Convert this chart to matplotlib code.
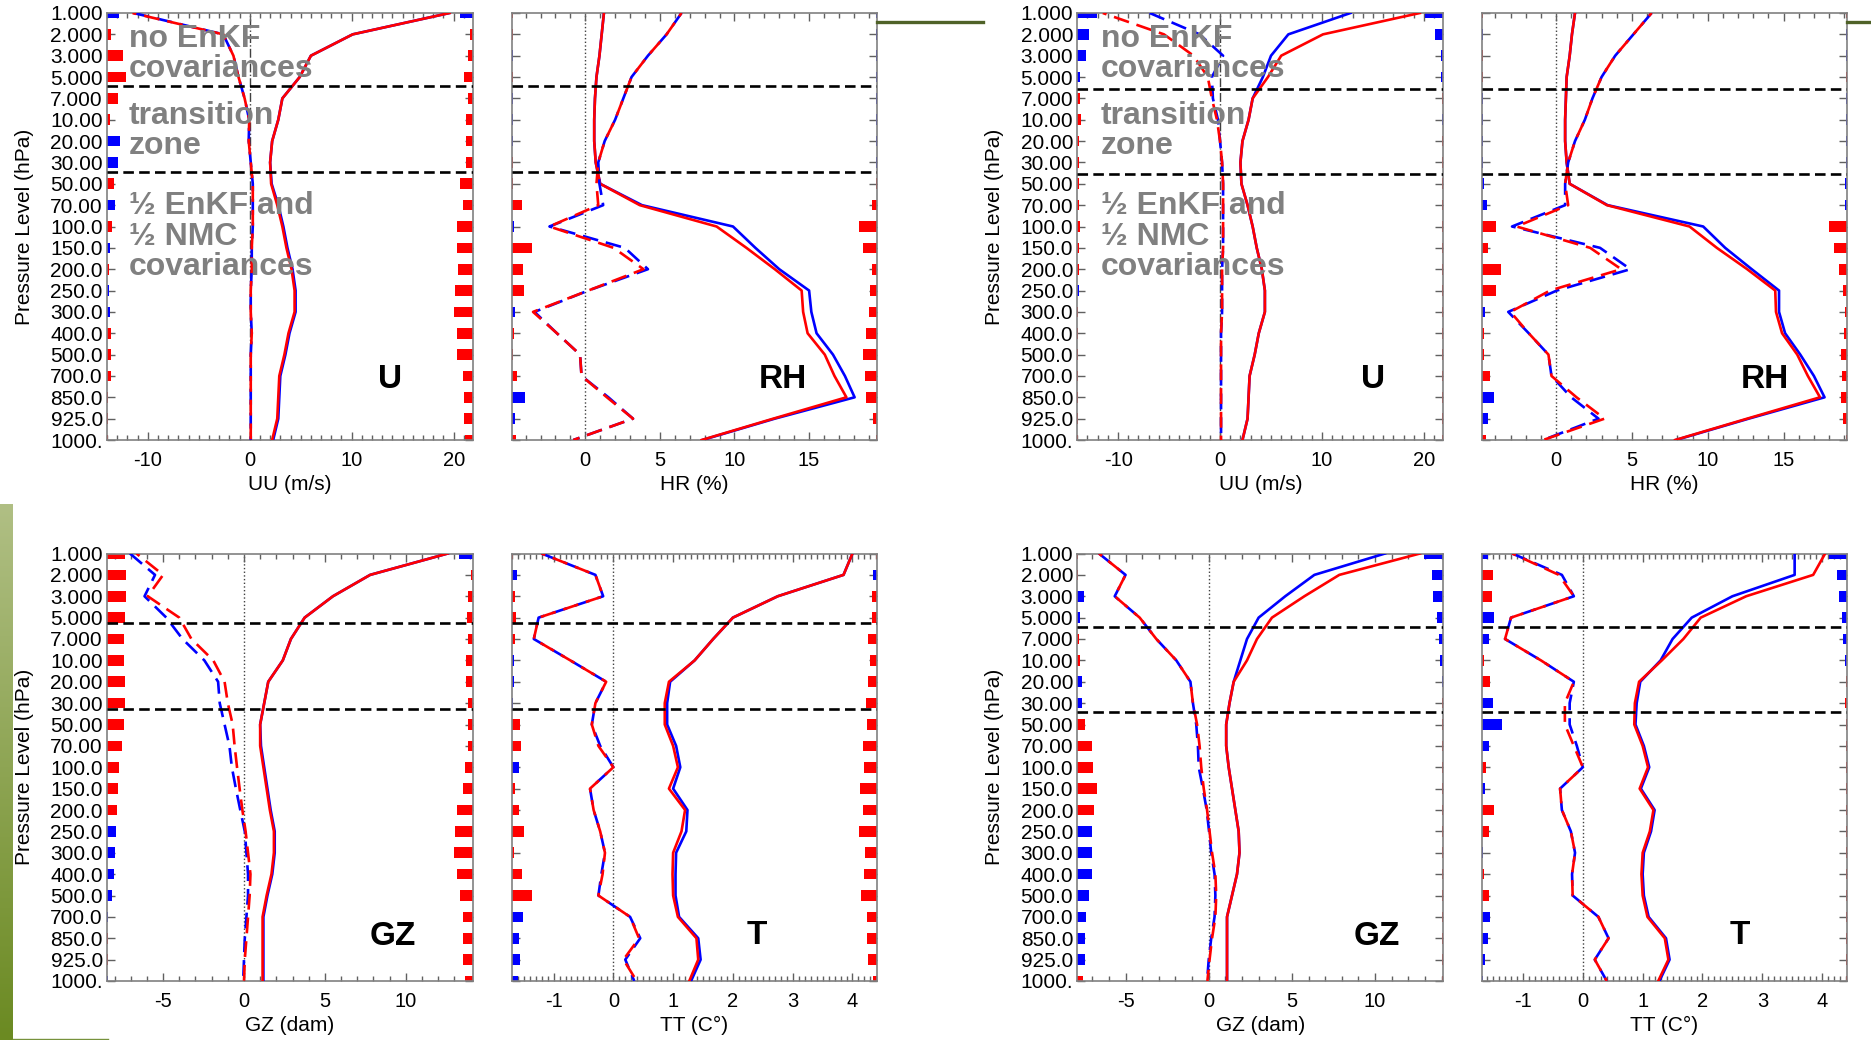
import numpy as np
import matplotlib.pyplot as plt
from matplotlib.lines import Line2D
from matplotlib.colors import LinearSegmentedColormap
from matplotlib.ticker import MultipleLocator, FormatStrFormatter

plt.rcParams['font.family'] = ['Liberation Sans', 'DejaVu Sans']
plt.rcParams['axes.unicode_minus'] = False

levels = ["1.000", "2.000", "3.000", "5.000", "7.000", "10.00", "20.00", "30.00",
          "50.00", "70.00", "100.0", "150.0", "200.0", "250.0", "300.0", "400.0",
          "500.0", "700.0", "850.0", "925.0", "1000."]

# ---- experiment set 1 (left pair of columns) ----
# std dev (solid) and bias (dashed); ctl = blue, exp = red
uu1_std_ctl = [19.6, 10.1, 6.0, 4.9, 3.2, 2.8, 2.2, 2.0, 2.15, 2.8, 3.3, 3.7, 4.2, 4.5, 4.5, 3.9, 3.5, 3.0, 2.9, 2.8, 2.3]
uu1_std_exp = [19.6, 10.1, 6.0, 4.9, 3.2, 2.8, 2.2, 2.0, 2.1, 2.7, 3.2, 3.6, 4.1, 4.4, 4.4, 3.8, 3.4, 2.9, 2.8, 2.7, 2.2]
uu1_bias_ctl = [-11.4, -2.6, -1.6, -1.1, -0.5, -0.05, -0.1, 0.1, 0.3, 0.3, 0.3, 0.2, 0.2, 0.1, 0.1, 0.2, 0.1, 0.1, 0.1, 0.1, 0.1]
uu1_bias_exp = [-11.5, -2.6, -1.6, -1.1, -0.5, -0.05, -0.1, 0.1, 0.3, 0.3, 0.3, 0.2, 0.2, 0.1, 0.1, 0.2, 0.1, 0.1, 0.1, 0.1, 0.1]

hr1_std_ctl = [1.25, 1.1, 0.95, 0.75, 0.65, 0.6, 0.6, 0.7, 1.0, 3.8, 9.9, 11.4, 13.0, 15.0, 15.15, 15.5, 16.6, 17.4, 18.05, 12.7, 7.85]
hr1_std_exp = [1.25, 1.1, 0.95, 0.75, 0.65, 0.6, 0.6, 0.7, 1.0, 3.65, 8.8, 10.8, 12.7, 14.5, 14.6, 14.9, 16.05, 16.7, 17.5, 12.6, 7.8]
hr1_bias_ctl = [6.45, 5.45, 4.2, 3.1, 2.55, 2.0, 1.3, 0.87, 0.95, 1.2, -2.4, 2.65, 4.2, 0.2, -3.4, -1.9, -0.35, -0.25, 1.55, 3.2, -0.8]
hr1_bias_exp = [6.45, 5.45, 4.2, 3.1, 2.55, 2.0, 1.3, 0.87, 0.75, 0.87, -2.4, 1.9, 3.9, 0.2, -3.5, -1.9, -0.35, -0.25, 1.45, 3.2, -0.8]

gz1_std_ctl = [12.6, 7.8, 5.5, 3.75, 2.9, 2.4, 1.5, 1.25, 1.0, 1.05, 1.25, 1.45, 1.65, 1.9, 1.9, 1.75, 1.45, 1.2, 1.2, 1.2, 1.2]
gz1_std_exp = [12.6, 7.8, 5.5, 3.75, 2.9, 2.4, 1.5, 1.25, 1.0, 1.0, 1.2, 1.4, 1.6, 1.85, 1.85, 1.7, 1.4, 1.15, 1.15, 1.15, 1.15]
gz1_bias_ctl = [-7.05, -5.5, -6.15, -4.8, -3.8, -2.45, -1.6, -1.5, -1.2, -0.9, -0.75, -0.5, -0.23, 0.05, 0.15, 0.25, 0.25, 0.15, 0.05, 0.0, -0.05]
gz1_bias_exp = [-6.65, -5.0, -5.95, -4.0, -3.25, -1.9, -1.2, -1.0, -0.7, -0.58, -0.43, -0.27, -0.1, 0.1, 0.25, 0.4, 0.35, 0.25, 0.15, 0.05, 0.0]

tt1_std_ctl = [4.0, 3.85, 2.75, 2.0, 1.67, 1.36, 0.95, 0.9, 0.9, 1.05, 1.12, 1.0, 1.24, 1.22, 1.05, 1.04, 1.04, 1.1, 1.42, 1.46, 1.3]
tt1_std_exp = [4.0, 3.85, 2.75, 2.0, 1.67, 1.36, 0.93, 0.86, 0.86, 1.0, 1.08, 0.93, 1.2, 1.14, 1.0, 0.99, 1.0, 1.08, 1.39, 1.42, 1.27]
tt1_bias_ctl = [-1.2, -0.3, -0.17, -1.25, -1.33, -0.72, -0.12, -0.3, -0.36, -0.22, 0.0, -0.39, -0.33, -0.22, -0.14, -0.2, -0.25, 0.28, 0.45, 0.2, 0.35]
tt1_bias_exp = [-1.2, -0.3, -0.17, -1.25, -1.33, -0.72, -0.12, -0.3, -0.36, -0.25, 0.0, -0.39, -0.33, -0.22, -0.14, -0.18, -0.25, 0.28, 0.43, 0.17, 0.39]

# ---- experiment set 2 (right pair of columns) ----
uu2_std_ctl = [12.8, 6.7, 5.0, 4.2, 3.2, 2.8, 2.2, 2.0, 2.1, 2.7, 3.2, 3.6, 4.1, 4.4, 4.4, 3.8, 3.4, 2.9, 2.8, 2.7, 2.2]
uu2_std_exp = [19.6, 10.1, 6.0, 4.7, 3.2, 2.8, 2.2, 2.0, 2.1, 2.7, 3.2, 3.6, 4.1, 4.4, 4.4, 3.8, 3.4, 2.9, 2.8, 2.7, 2.2]
uu2_bias_ctl = [-6.9, -2.0, 0.3, -0.8, -0.7, -0.2, 0.0, 0.2, 0.3, 0.3, 0.3, 0.3, 0.2, 0.2, 0.2, 0.1, 0.1, 0.1, 0.1, 0.1, 0.1]
uu2_bias_exp = [-11.5, -5.5, -2.6, -1.2, -0.8, -0.3, 0.0, 0.2, 0.3, 0.3, 0.3, 0.3, 0.2, 0.2, 0.2, 0.1, 0.1, 0.1, 0.1, 0.1, 0.1]

hr2_std_ctl = [1.25, 1.05, 0.9, 0.7, 0.65, 0.6, 0.6, 0.7, 0.9, 3.4, 9.7, 11.15, 12.9, 14.7, 14.7, 15.1, 16.1, 17.0, 17.7, 12.7, 7.9]
hr2_std_exp = [1.25, 1.05, 0.9, 0.7, 0.65, 0.6, 0.6, 0.7, 0.9, 3.35, 8.8, 10.6, 12.6, 14.45, 14.5, 14.9, 15.9, 16.6, 17.4, 12.6, 7.85]
hr2_bias_ctl = [6.3, 5.1, 3.9, 3.0, 2.4, 1.9, 1.25, 0.8, 0.6, 0.6, -2.9, 2.9, 4.9, 0.05, -3.15, -1.8, -0.5, -0.3, 1.0, 2.8, -0.85]
hr2_bias_exp = [6.3, 5.1, 3.9, 3.0, 2.4, 1.9, 1.25, 0.8, 0.6, 0.8, -2.6, 2.25, 4.3, -0.4, -3.0, -1.8, -0.5, -0.3, 1.35, 3.2, -0.85]

gz2_std_ctl = [10.6, 6.35, 4.6, 3.0, 2.3, 1.9, 1.5, 1.25, 1.05, 1.05, 1.2, 1.4, 1.6, 1.8, 1.85, 1.7, 1.4, 1.1, 1.1, 1.1, 1.1]
gz2_std_exp = [12.7, 7.85, 5.75, 3.8, 2.9, 2.3, 1.5, 1.25, 1.05, 1.05, 1.2, 1.4, 1.6, 1.8, 1.85, 1.7, 1.4, 1.1, 1.1, 1.1, 1.1]
gz2_bias_ctl = [-6.6, -5.0, -5.65, -4.15, -3.15, -1.95, -1.1, -0.95, -0.75, -0.65, -0.6, -0.35, -0.12, 0.02, 0.15, 0.35, 0.4, 0.35, 0.15, 0.0, -0.1]
gz2_bias_exp = [-6.6, -5.0, -5.65, -4.15, -3.15, -1.95, -1.1, -0.95, -0.7, -0.55, -0.45, -0.3, -0.1, 0.05, 0.2, 0.4, 0.45, 0.4, 0.2, 0.05, -0.08]

tt2_std_ctl = [3.54, 3.54, 2.5, 1.82, 1.5, 1.3, 0.96, 0.9, 0.88, 1.02, 1.11, 0.97, 1.2, 1.14, 1.02, 1.0, 1.02, 1.1, 1.39, 1.45, 1.28]
tt2_std_exp = [4.05, 3.85, 2.73, 1.97, 1.68, 1.32, 0.94, 0.87, 0.86, 1.0, 1.09, 0.95, 1.18, 1.12, 1.0, 0.98, 1.0, 1.08, 1.37, 1.43, 1.26]
tt2_bias_ctl = [-1.18, -0.35, -0.15, -1.2, -1.3, -0.7, -0.15, -0.22, -0.22, -0.1, 0.0, -0.38, -0.35, -0.2, -0.13, -0.18, -0.17, 0.26, 0.43, 0.2, 0.4]
tt2_bias_exp = [-1.18, -0.4, -0.15, -1.2, -1.3, -0.7, -0.15, -0.3, -0.3, -0.15, 0.0, -0.38, -0.35, -0.2, -0.13, -0.18, -0.17, 0.26, 0.43, 0.2, 0.4]

# significance strips (% of panel width); > 0 red, < 0 blue
uu1_sig_l = [-3.3, 1.0, 4.5, 5.3, 3.0, 0.7, -3.5, -3.1, 1.8, -2.1, 1.5, -0.7, 0.5, -0.5, -0.9, 1.2, 1.0, 1.0, 0.4, 0.4, 0.3]
uu1_sig_r = [-3.6, 0.9, 1.4, 2.5, 1.4, 1.8, 2.0, 1.8, 3.6, 2.7, 4.5, 4.5, 4.1, 4.8, 5.3, 4.5, 4.4, 2.7, 2.5, 2.5, 2.1]
hr1_sig_l = [0.4, 0.3, -0.3, 0.3, -0.3, -0.3, -0.3, 0.3, 0.3, 2.7, -0.5, 5.5, 3.2, 3.5, -1.0, 0.5, 0.3, 1.4, -3.6, -1.0, 1.2]
hr1_sig_r = [-0.3, -0.3, -0.3, -0.3, -0.3, -0.3, -0.3, -0.3, 0.3, 1.5, 4.9, 3.8, 1.3, 2.0, 2.2, 2.9, 3.8, 3.4, 2.9, 1.1, 0.4]
gz1_sig_l = [4.8, 5.3, 5.3, 4.9, 4.6, 4.6, 4.8, 4.8, 4.6, 4.1, 3.3, 3.0, 2.7, -2.5, -2.2, -2.0, -1.5, -0.4, 0.4, 0.4, -0.4]
gz1_sig_r = [-3.8, 0.5, 1.4, 1.6, 1.5, 1.8, 2.0, 1.4, 1.4, 1.4, 2.3, 2.7, 4.4, 4.8, 5.3, 4.4, 3.6, 2.7, 2.7, 2.7, 2.3]
tt1_sig_l = [0.4, -1.5, 0.8, 1.2, 0.9, -0.6, -0.6, -0.4, 2.3, 2.5, -2.1, 0.9, 2.1, 3.5, 0.7, 2.9, 5.5, -3.2, -2.1, -2.3, -1.6]
tt1_sig_r = [0.3, -1.1, 1.5, 1.5, 2.5, 2.0, 2.5, 3.1, 2.7, 3.8, 3.6, 4.7, 3.8, 5.0, 3.4, 3.6, 4.3, 2.7, 2.7, 2.5, 1.1]

uu2_sig_l = [-5.3, -3.3, -2.4, -0.7, 0.7, 0.9, 0.4, 0.4, 0.4, 0.5, 0.7, 0.4, 0.4, -0.5, 0.3, 0.3, 0.3, 0.3, 0.3, 0.3, 0.3]
uu2_sig_r = [-5.0, -2.3, -0.5, -0.5, 0.3, -0.3, 0.3, 0.3, 0.3, 0.3, 0.3, 0.3, 0.3, 0.3, 0.3, 0.3, 0.3, 0.3, 0.3, 0.3, 0.3]
hr2_sig_l = [0.3, -0.3, 0.3, 0.3, -0.3, -0.3, -0.3, -0.3, -0.7, -1.5, 3.9, 1.8, 5.3, 3.9, -1.0, 0.5, 0.7, 2.3, -3.4, -1.8, 1.2]
hr2_sig_r = [0.3, -0.3, -0.3, 0.3, -0.3, -0.3, -0.3, -0.3, -0.6, -0.6, 4.9, 3.6, 2.2, 1.3, 0.6, 0.8, 1.8, 1.5, 1.8, 1.3, 0.3]
gz2_sig_l = [0.3, 0.3, -1.8, -0.7, 0.5, 0.7, -1.3, -1.2, 2.2, 3.9, 4.2, 5.3, 4.6, -3.9, -3.9, -3.9, -3.3, -2.5, -2.1, -2.1, 1.6]
gz2_sig_r = [-5.3, -3.2, -2.7, -1.6, -1.2, -0.9, -0.3, 0.4, 0.4, 0.3, 0.3, 0.3, 0.3, 0.3, 0.3, 0.3, 0.3, 0.3, 0.3, 0.3, 0.3]
tt2_sig_l = [-1.8, 3.2, 2.9, -3.5, -2.1, 0.5, 2.3, -3.2, -5.5, -2.1, 1.1, -0.9, 3.5, 2.1, -0.3, 0.5, 2.1, -2.3, -1.6, -1.0, -0.3]
tt2_sig_r = [-4.9, -2.7, -2.2, -1.5, -1.3, -0.6, 0.3, 0.6, 0.4, 0.4, 0.4, 0.4, 0.4, 0.4, 0.4, 0.4, 0.4, 0.4, 0.4, 0.4, 0.4]

zone_notes = ["no EnKF", "covariances", "transition", "zone",
              "\u00bd EnKF and", "\u00bd NMC", "covariances"]

W, H = 1871, 1040
RED, BLUE = '#ff0000', '#0000ff'
fig = plt.figure(figsize=(W / 100, H / 100), dpi=100)
fig.patch.set_facecolor('white')


def px_box(l, t, r, b):
    return [l / W, 1 - b / H, (r - l) / W, (b - t) / H]


def draw_panel(box, xlim, major, minor, std_ctl, std_exp, bias_ctl, bias_exp,
               sig_l, sig_r, cuts, xlabel, tag, tag_xy, show_levels, zero_ls,
               note_x=None):
    ax = fig.add_axes(px_box(*box))
    y = np.arange(len(levels))
    span = xlim[1] - xlim[0]

    # significance strips glued to the left and right frame
    for vals, side in ((sig_l, 'left'), (sig_r, 'right')):
        v = np.asarray(vals)
        w = np.abs(v) / 100.0 * span
        cols = [RED if s > 0 else BLUE for s in v]
        start = xlim[0] if side == 'left' else xlim[1] - w
        ax.barh(y, w, left=start, height=0.5, color=cols, linewidth=0, zorder=2)

    ax.axvline(0, color='#404040', lw=1.0, ls=zero_ls, zorder=1)
    for c in cuts:
        ax.axhline(c, color='black', lw=1.9, ls=(0, (4, 2)), zorder=4)

    ax.plot(std_ctl, y, color=BLUE, lw=1.9, zorder=3)
    ax.plot(std_exp, y, color=RED, lw=1.9, zorder=3)
    ax.plot(bias_ctl, y, color=BLUE, lw=1.9, ls=(0, (6, 3)), zorder=3)
    ax.plot(bias_exp, y, color=RED, lw=1.9, ls=(4.5, (6, 3)), zorder=3)

    ax.set_xlim(*xlim)
    ax.set_ylim(len(levels) - 1, 0)
    ax.set_yticks(y)
    if show_levels:
        ax.set_yticklabels(levels)
        ax.set_ylabel('Pressure Level (hPa)', fontsize=15)
        ax.yaxis.set_label_coords(-0.20, 0.5)
    else:
        ax.set_yticklabels([])
    ax.xaxis.set_major_locator(MultipleLocator(major))
    ax.xaxis.set_minor_locator(MultipleLocator(minor))
    ax.xaxis.set_major_formatter(FormatStrFormatter('%g'))
    ax.tick_params(which='both', direction='in', top=True, right=True,
                   color='#606060', width=1.0)
    ax.tick_params(which='major', length=6)
    ax.tick_params(which='minor', length=3.5)
    ax.tick_params(axis='x', labelsize=14.5, pad=8)
    ax.tick_params(axis='y', labelsize=15, pad=3)
    for sp in ax.spines.values():
        sp.set_color('#808080')
        sp.set_linewidth(1.2)

    ax.set_xlabel(xlabel, fontsize=15)
    ax.xaxis.set_label_coords(0.5, -0.082)

    ax.text(tag_xy[0], tag_xy[1], tag, transform=ax.transAxes, ha='center',
            va='baseline', fontsize=24, fontweight='bold', color='black', zorder=6)

    if note_x is not None:
        for line, yb in zip(zone_notes, [0.921, 0.851, 0.740, 0.670, 0.529, 0.457, 0.386]):
            ax.text(note_x, yb, line, transform=ax.transAxes, ha='left', va='baseline',
                    fontsize=23, fontweight='bold', color='#808080', zorder=6)
    return ax


TOP = (13, 440)
BOT = (553.5, 981)
COL = [(107, 473), (511.7, 877), (1077.3, 1443.3), (1481.7, 1847.3)]

# left set
draw_panel((COL[0][0], TOP[0], COL[0][1], TOP[1]), (-14, 21.9), 10, 1,
           uu1_std_ctl, uu1_std_exp, uu1_bias_ctl, uu1_bias_exp, uu1_sig_l, uu1_sig_r,
           (3.40, 7.43), 'UU (m/s)', 'U', (0.773, 0.122), True, '-.', note_x=0.060)
draw_panel((COL[1][0], TOP[0], COL[1][1], TOP[1]), (-4.93, 19.55), 5, 1,
           hr1_std_ctl, hr1_std_exp, hr1_bias_ctl, hr1_bias_exp, hr1_sig_l, hr1_sig_r,
           (3.40, 7.43), 'HR (%)', 'RH', (0.743, 0.122), False, ':')
draw_panel((COL[0][0], BOT[0], COL[0][1], BOT[1]), (-8.47, 14.16), 5, 1,
           gz1_std_ctl, gz1_std_exp, gz1_bias_ctl, gz1_bias_exp, gz1_sig_l, gz1_sig_r,
           (3.27, 7.27), 'GZ (dam)', 'GZ', (0.781, 0.084), True, ':')
draw_panel((COL[1][0], BOT[0], COL[1][1], BOT[1]), (-1.7, 4.41), 1, 0.1,
           tt1_std_ctl, tt1_std_exp, tt1_bias_ctl, tt1_bias_exp, tt1_sig_l, tt1_sig_r,
           (3.27, 7.27), 'TT (C\u00b0)', 'T', (0.672, 0.087), False, ':')

# right set
draw_panel((COL[2][0], TOP[0], COL[2][1], TOP[1]), (-14, 21.9), 10, 1,
           uu2_std_ctl, uu2_std_exp, uu2_bias_ctl, uu2_bias_exp, uu2_sig_l, uu2_sig_r,
           (3.56, 7.54), 'UU (m/s)', 'U', (0.808, 0.122), True, '-.', note_x=0.064)
draw_panel((COL[3][0], TOP[0], COL[3][1], TOP[1]), (-4.9, 19.2), 5, 1,
           hr2_std_ctl, hr2_std_exp, hr2_bias_ctl, hr2_bias_exp, hr2_sig_l, hr2_sig_r,
           (3.56, 7.54), 'HR (%)', 'RH', (0.775, 0.122), False, ':')
draw_panel((COL[2][0], BOT[0], COL[2][1], BOT[1]), (-7.9, 14.1), 5, 1,
           gz2_std_ctl, gz2_std_exp, gz2_bias_ctl, gz2_bias_exp, gz2_sig_l, gz2_sig_r,
           (3.42, 7.43), 'GZ (dam)', 'GZ', (0.819, 0.084), True, ':')
draw_panel((COL[3][0], BOT[0], COL[3][1], BOT[1]), (-1.69, 4.42), 1, 0.1,
           tt2_std_ctl, tt2_std_exp, tt2_bias_ctl, tt2_bias_exp, tt2_sig_l, tt2_sig_r,
           (3.42, 7.43), 'TT (C\u00b0)', 'T', (0.7065, 0.087), False, ':')

# slide decorations: olive side strip and rules
side = fig.add_axes(px_box(0, 504, 13, 1040))
olive = LinearSegmentedColormap.from_list('olive', ['#b0bf84', '#6b8a22'])
side.imshow(np.linspace(0, 1, 200).reshape(-1, 1), aspect='auto', cmap=olive)
side.axis('off')

for x0, x1 in ((877, 983), (1847, 1871)):
    fig.add_artist(Line2D([x0 / W, x1 / W], [1 - 22 / H] * 2, color='#4f6228', lw=2.4))
fig.add_artist(Line2D([13 / W, 108 / W], [1 - 1039 / H] * 2, color='#76923c', lw=1.0))

fig.savefig('out.png', dpi=100)
